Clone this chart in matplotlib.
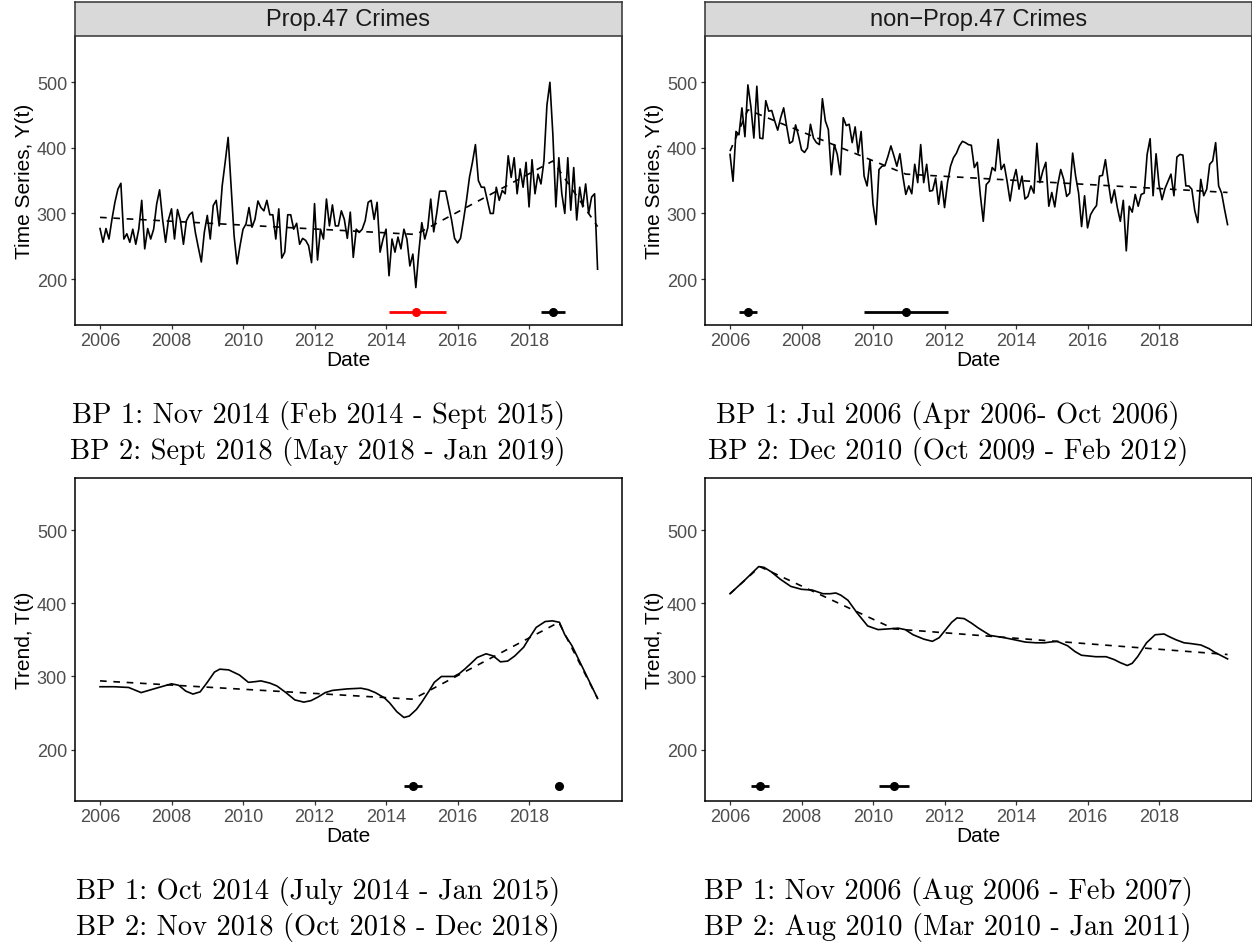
import numpy as np
import matplotlib
matplotlib.use("Agg")
import matplotlib.pyplot as plt

W, H, DPI = 1252, 945, 100

# ------------------------------------------------------------------ data
# monthly observations, Jan 2006 .. Dec 2019
start_year = 2006
n_months = 168

prop47_series = [
    277, 256, 277, 261, 291, 317, 337, 346, 261, 269, 256, 276,   # 2006
    253, 276, 320, 246, 277, 261, 276, 314, 336, 291, 256, 291,   # 2007
    307, 261, 306, 289, 253, 289, 298, 302, 271, 248, 226, 271,   # 2008
    297, 261, 312, 320, 281, 342, 378, 416, 342, 266, 223, 251,   # 2009
    276, 284, 309, 279, 291, 319, 309, 304, 320, 298, 298, 261,   # 2010
    307, 232, 241, 298, 298, 276, 285, 253, 262, 259, 251, 225,   # 2011
    315, 229, 276, 261, 322, 281, 313, 281, 281, 304, 291, 262,   # 2012
    302, 233, 276, 271, 276, 289, 317, 320, 291, 317, 241, 261,   # 2013
    276, 205, 261, 241, 264, 246, 276, 261, 220, 238, 187, 241,   # 2014
    286, 261, 278, 322, 272, 300, 334, 334, 334, 312, 290, 262,   # 2015
    255, 262, 290, 320, 355, 378, 405, 350, 340, 340, 320, 300,   # 2016
    300, 340, 320, 335, 330, 388, 355, 385, 330, 368, 340, 378,   # 2017
    310, 382, 330, 360, 345, 380, 465, 500, 420, 310, 385, 330,   # 2018
    300, 385, 305, 370, 290, 340, 310, 345, 300, 325, 330, 215,   # 2019
]

nonprop47_series = [
    390, 349, 425, 420, 461, 417, 496, 463, 415, 494, 415, 414,   # 2006
    472, 456, 457, 441, 427, 446, 461, 433, 407, 410, 435, 418,   # 2007
    397, 393, 400, 436, 415, 408, 405, 475, 441, 428, 359, 405,   # 2008
    390, 359, 446, 434, 436, 408, 432, 392, 425, 357, 342, 382,   # 2009
    314, 283, 367, 372, 373, 387, 403, 388, 372, 391, 357, 329,   # 2010
    342, 330, 375, 347, 405, 347, 375, 334, 335, 354, 314, 349,   # 2011
    309, 347, 372, 385, 392, 403, 410, 408, 405, 404, 370, 378,   # 2012
    329, 288, 344, 349, 370, 365, 413, 367, 375, 349, 319, 349,   # 2013
    367, 337, 357, 322, 326, 342, 331, 407, 347, 365, 378, 311,   # 2014
    332, 310, 344, 367, 352, 326, 331, 392, 357, 331, 280, 327,   # 2015
    278, 298, 306, 312, 357, 358, 382, 347, 316, 336, 309, 288,   # 2016
    320, 243, 311, 302, 329, 311, 329, 331, 390, 414, 327, 391,   # 2017
    343, 321, 338, 349, 360, 327, 386, 390, 389, 342, 342, 337,   # 2018
    304, 286, 352, 327, 337, 375, 380, 408, 342, 331, 306, 283,   # 2019
]

# piecewise-linear fits (segment end points)
prop47_fit_x = [2006.0, 2014.833, 2018.667, 2019.917]
prop47_fit_y = [294, 268, 380, 280]
nonprop47_fit_x = [2006.0, 2006.5, 2010.917, 2019.917]
nonprop47_fit_y = [395, 458, 360, 332]

# extracted trend components
prop47_trend_x = [2006.0, 2006.4, 2006.8, 2007.0, 2007.15, 2007.5, 2008.0, 2008.2, 2008.4,
                  2008.6, 2008.8, 2009.0, 2009.2, 2009.35, 2009.6, 2009.9, 2010.15, 2010.35,
                  2010.5, 2010.75, 2010.95, 2011.2, 2011.45, 2011.7, 2011.9, 2012.1, 2012.3,
                  2012.5, 2012.9, 2013.3, 2013.5, 2013.7, 2013.95, 2014.1, 2014.3, 2014.5,
                  2014.65, 2014.85, 2015.0, 2015.2, 2015.35, 2015.55, 2015.9, 2016.05, 2016.2,
                  2016.4, 2016.55, 2016.8, 2017.0, 2017.2, 2017.4, 2017.6, 2017.85, 2018.0,
                  2018.2, 2018.45, 2018.65, 2018.85, 2019.0, 2019.2, 2019.5, 2019.917]
prop47_trend_y = [286, 286, 285, 281, 278, 283, 290, 288, 280,
                  276, 279, 292, 306, 310, 309, 302, 292, 293,
                  294, 291, 287, 278, 268, 265, 267, 272, 278,
                  281, 283, 284, 282, 278, 271, 264, 252, 244,
                  246, 255, 265, 280, 292, 300, 300, 304, 310,
                  319, 326, 331, 328, 320, 321, 328, 340, 352,
                  367, 375, 376, 374, 357, 342, 312, 270]

nonprop47_trend_x = [2006.0, 2006.4, 2006.8, 2006.95, 2007.15, 2007.4, 2007.7, 2008.0, 2008.3,
                     2008.6, 2008.8, 2008.96, 2009.1, 2009.3, 2009.55, 2009.85, 2010.14, 2010.44,
                     2010.7, 2010.9, 2011.12, 2011.42, 2011.66, 2011.85, 2012.0, 2012.2, 2012.35,
                     2012.55, 2012.75, 2012.95, 2013.28, 2013.67, 2013.97, 2014.26, 2014.56,
                     2014.8, 2014.95, 2015.15, 2015.44, 2015.65, 2015.83, 2016.23, 2016.52,
                     2016.75, 2016.91, 2017.11, 2017.25, 2017.4, 2017.65, 2017.89, 2018.14,
                     2018.3, 2018.48, 2018.7, 2018.88, 2019.17, 2019.4, 2019.56, 2019.917]
nonprop47_trend_y = [413, 431, 450, 449, 443, 433, 423, 419, 418,
                     413, 413, 414, 411, 404, 387, 369, 364, 365,
                     366, 364, 357, 351, 348, 353, 362, 374, 380,
                     379, 373, 366, 356, 353, 350, 347, 346,
                     346, 347, 348, 342, 334, 329, 327, 327,
                     323, 319, 315, 318, 327, 346, 357, 358,
                     354, 350, 346, 345, 343, 338, 333, 324]

prop47_trend_fit_x = [2006.0, 2014.75, 2018.833, 2019.917]
prop47_trend_fit_y = [294, 269, 374, 270]
nonprop47_trend_fit_x = [2006.0, 2006.833, 2010.583, 2019.917]
nonprop47_trend_fit_y = [413, 450, 365, 330]

# breakpoints: estimate, lower, upper, colour
bp_level = 150
prop47_bp = [(2014.833, 2014.083, 2015.667, "#FF0000"), (2018.667, 2018.333, 2019.0, "black")]
nonprop47_bp = [(2006.5, 2006.25, 2006.75, "black"), (2010.917, 2009.75, 2012.083, "black")]
prop47_trend_bp = [(2014.75, 2014.5, 2015.0, "black"), (2018.833, 2018.75, 2018.917, "black")]
nonprop47_trend_bp = [(2006.833, 2006.583, 2007.083, "black"), (2010.583, 2010.167, 2011.0, "black")]

strip_labels = ["Prop.47 Crimes", "non\u2212Prop.47 Crimes"]
x_ticks = [2006, 2008, 2010, 2012, 2014, 2016, 2018]
y_ticks = [200, 300, 400, 500]

captions = [
    ["BP 1: Nov 2014 (Feb 2014 - Sept 2015)", "BP 2: Sept 2018 (May 2018 - Jan 2019)"],
    ["BP 1: Jul 2006 (Apr 2006- Oct 2006)", "BP 2: Dec 2010 (Oct 2009 - Feb 2012)"],
    ["BP 1: Oct 2014 (July 2014 - Jan 2015)", "BP 2: Nov 2018 (Oct 2018 - Dec 2018)"],
    ["BP 1: Nov 2006 (Aug 2006 - Feb 2007)", "BP 2: Aug 2010 (Mar 2010 - Jan 2011)"],
]

# ------------------------------------------------------------------ figure
plt.rcParams["font.family"] = ["Liberation Sans", "DejaVu Sans"]
fig = plt.figure(figsize=(W / DPI, H / DPI), dpi=DPI)


def rect(x0, y0, x1, y1):
    return [x0 / W, 1 - y1 / H, (x1 - x0) / W, (y1 - y0) / H]


months = start_year + np.arange(n_months) / 12.0
XLIM = (2005.30, 2020.60)
YLIM_TOP = (129.9, 570.6)
YLIM_BOT = (130.0, 571.0)
LW = 1.2


def style_axis(ax, ylim, ylabel, box):
    ax.set_xlim(*XLIM)
    ax.set_ylim(*ylim)
    ax.set_xticks(x_ticks)
    ax.set_xticklabels([str(t) for t in x_ticks])
    ax.set_yticks(y_ticks)
    ax.set_yticklabels([str(t) for t in y_ticks])
    ax.tick_params(axis="both", direction="out", length=3.2, width=0.9,
                   color="#333333", labelsize=13, labelcolor="#4D4D4D")
    ax.tick_params(axis="x", pad=1.5)
    ax.tick_params(axis="y", pad=2.5)
    for side in ["left", "bottom", "right", "top"]:
        ax.spines[side].set_linewidth(1.1)
        ax.spines[side].set_color("black")
    if not box:
        ax.spines["top"].set_visible(False)
    ax.set_xlabel("Date", fontsize=15, color="black", labelpad=1)
    ax.set_ylabel(ylabel, fontsize=15, color="black", labelpad=2)


def draw_bps(ax, bps):
    for est, lo, hi, col in bps:
        ax.plot([lo, hi], [bp_level, bp_level], color=col, lw=2.0,
                solid_capstyle="butt", zorder=4)
        ax.plot([est], [bp_level], "o", color=col, ms=5.5, zorder=5)


panels = [
    ((75, 37, 622, 326), months, prop47_series, prop47_fit_x, prop47_fit_y,
     prop47_bp, YLIM_TOP, "Time Series, Y(t)", False, strip_labels[0]),
    ((705, 37, 1252, 326), months, nonprop47_series, nonprop47_fit_x, nonprop47_fit_y,
     nonprop47_bp, YLIM_TOP, "Time Series, Y(t)", False, strip_labels[1]),
    ((75, 479, 622, 802), prop47_trend_x, prop47_trend_y, prop47_trend_fit_x,
     prop47_trend_fit_y, prop47_trend_bp, YLIM_BOT, "Trend, T(t)", True, None),
    ((705, 479, 1252, 802), nonprop47_trend_x, nonprop47_trend_y, nonprop47_trend_fit_x,
     nonprop47_trend_fit_y, nonprop47_trend_bp, YLIM_BOT, "Trend, T(t)", True, None),
]

for (box_px, sx, sy, fx, fy, bps, ylim, ylabel, box, strip) in panels:
    ax = fig.add_axes(rect(*box_px))
    ax.plot(sx, sy, color="black", lw=LW, zorder=3)
    ax.plot(fx, fy, color="black", lw=LW, linestyle=(0, (4, 4)), zorder=3)
    draw_bps(ax, bps)
    style_axis(ax, ylim, ylabel, box)
    if strip is not None:
        x0, y0, x1, y1 = box_px
        sax = fig.add_axes(rect(x0, 3, x1, 37))
        sax.set_facecolor("#D9D9D9")
        sax.set_xticks([])
        sax.set_yticks([])
        for side in sax.spines.values():
            side.set_color("#333333")
            side.set_linewidth(1.1)
        sax.text(0.5, 0.5, strip, transform=sax.transAxes, ha="center", va="center",
                 fontsize=17, color="#1A1A1A")

# captions (LaTeX-like serif)
cap_centers = [(318, 423.3), (948, 423.3), (318, 899.3), (948, 899.3)]
for (cx, cy), lines in zip(cap_centers, captions):
    for i, line in enumerate(lines):
        fig.text(cx / W, 1 - (cy + 36 * i) / H, line, ha="center", va="baseline",
                 fontsize=20.5, family="cmr10", color="black")

fig.savefig("out.png", dpi=DPI)
